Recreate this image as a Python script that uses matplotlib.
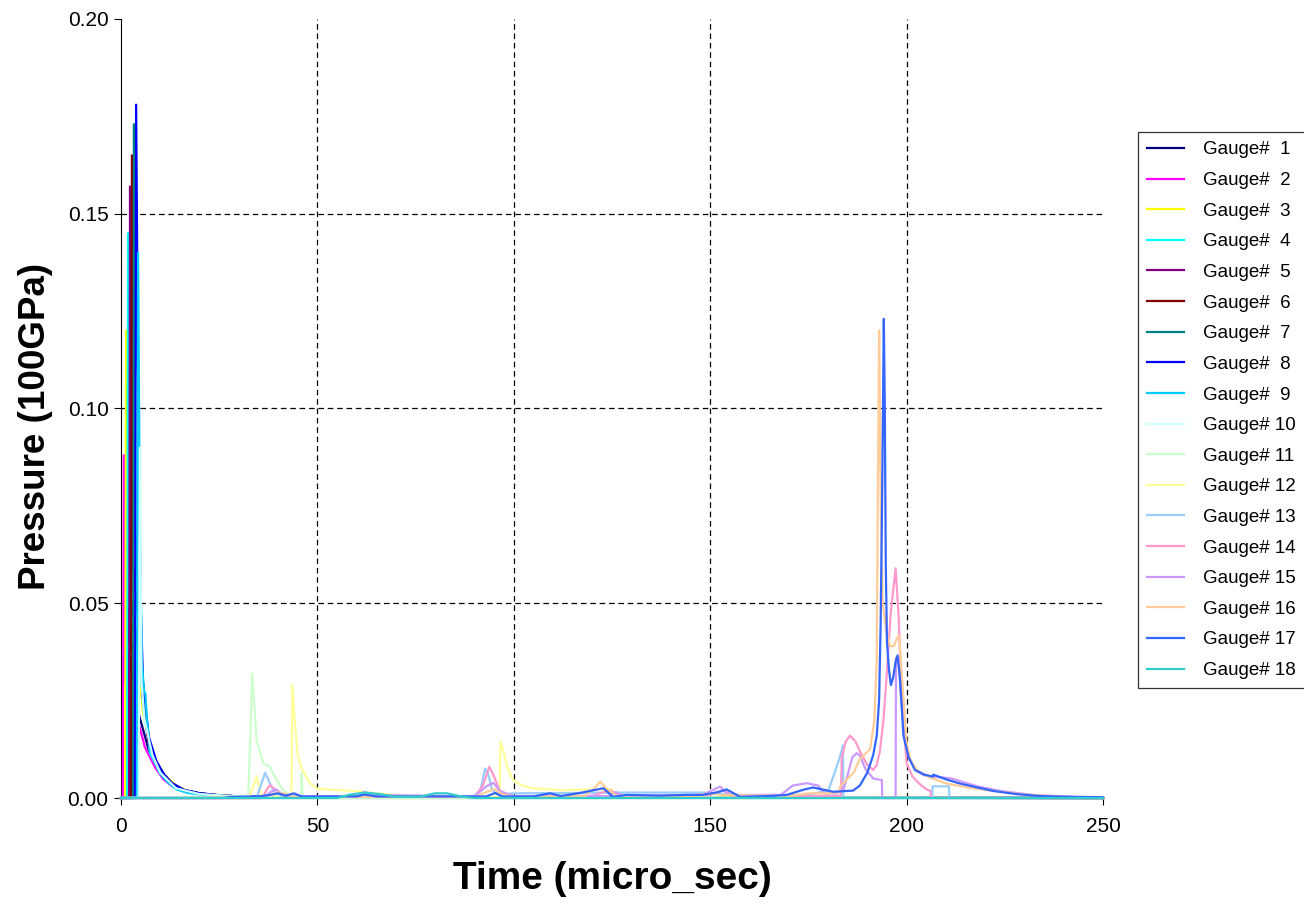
import matplotlib
matplotlib.use("Agg")
import matplotlib.pyplot as plt

plt.rcParams['font.family'] = ['Liberation Sans', 'DejaVu Sans']

# gauge traces: time (micro_sec), pressure (100GPa)
t01 = [0, 1.9, 2.05, 2.3, 4.4, 5.5, 7, 9, 11, 12.5, 14.2, 16.7, 20, 25, 30, 40, 250]
p01 = [0, 0, 0.05, 0.035, 0.022, 0.018, 0.0125, 0.0085, 0.0058, 0.0040, 0.0026, 0.0016, 0.0010, 0.0006, 0.0004, 0.0002, 0.0]

t02 = [0, 0.45, 0.75, 1.0, 4.8, 6.1, 8.7, 10.8, 13, 16, 20, 25, 30, 40, 250]
p02 = [0, 0, 0.088, 0.03, 0.018, 0.013, 0.0078, 0.0048, 0.003, 0.0017, 0.001, 0.0006, 0.0004, 0.0002, 0]

t03 = [0, 1.05, 1.3, 1.55, 5.0, 5.6, 7, 9, 11, 14, 17, 21, 26, 32, 40, 250]
p03 = [0, 0, 0.12, 0.04, 0.028, 0.022, 0.015, 0.0095, 0.006, 0.0032, 0.0018, 0.001, 0.0006, 0.0004, 0.0002, 0]

t04 = [0, 1.55, 1.8, 2.05, 4.9, 5.6, 7.4, 9.9, 12, 14.2, 17, 21, 26, 32, 40, 250]
p04 = [0, 0, 0.145, 0.05, 0.035, 0.024, 0.0115, 0.0064, 0.004, 0.0022, 0.0014, 0.0009, 0.0005, 0.0003, 0.0001, 0]

t05 = [0, 2.05, 2.3, 2.6, 4.9, 5.5, 7, 9, 11, 13, 16, 20, 25, 30, 40, 250]
p05 = [0, 0, 0.157, 0.05, 0.036, 0.026, 0.014, 0.0085, 0.0055, 0.0035, 0.002, 0.0012, 0.0007, 0.0004, 0.0002, 0]

t06 = [0, 2.55, 2.8, 3.1, 5.0, 5.6, 7, 9, 11, 13, 16, 20, 25, 30, 40, 250]
p06 = [0, 0, 0.165, 0.06, 0.038, 0.027, 0.015, 0.009, 0.006, 0.0038, 0.0021, 0.0012, 0.0007, 0.0004, 0.0002, 0]

t07 = [0, 3.05, 3.3, 3.6, 5.0, 5.7, 7.2, 9, 11, 13, 16, 20, 25, 30, 40, 250]
p07 = [0, 0, 0.173, 0.07, 0.04, 0.027, 0.0145, 0.009, 0.0058, 0.0037, 0.002, 0.0012, 0.0007, 0.0004, 0.0002, 0]

t08 = [0, 3.55, 3.85, 4.4, 5.0, 5.6, 7, 9, 11, 13, 16, 20, 25, 30, 40, 250]
p08 = [0, 0, 0.178, 0.10, 0.05, 0.03, 0.016, 0.0095, 0.006, 0.0038, 0.0021, 0.0012, 0.0007, 0.0004, 0.0002, 0]

t09 = [0, 4.05, 4.35, 4.8, 5.3, 5.9, 6.2, 6.6, 7.4, 9.9, 12, 14.2, 17, 21, 26, 32, 40, 250]
p09 = [0, 0, 0.140, 0.07, 0.035, 0.027, 0.027, 0.02, 0.012, 0.0064, 0.004, 0.0022, 0.0013, 0.0008, 0.0005, 0.0003, 0.0001, 0]

t10 = [0, 4.5, 4.8, 5.2, 6, 8, 10, 14, 20, 30, 40, 250]
p10 = [0, 0, 0.09, 0.03, 0.02, 0.011, 0.0065, 0.0025, 0.001, 0.0004, 0, 0]

t11 = [0, 32.4, 32.9, 33.4, 34.5, 36.2, 37.9, 39.6, 41.3, 43, 45.9, 46.0, 46.2, 250]
p11 = [0, 0.0005, 0.015, 0.032, 0.015, 0.0089, 0.008, 0.0046, 0.002, 0.0006, 0.0005, 0.0064, 0.0, 0]

t12 = [0, 32.6, 34.5, 35.8, 43.4, 43.6, 44.3, 45, 46, 48.1, 50, 54, 60, 65, 70, 75, 85,
       96.4, 96.6, 97.5, 98.5, 99.9, 102, 105, 111.8, 120, 125, 126, 135, 250]
p12 = [0, 0, 0.0055, 0.0005, 0.0004, 0.029, 0.019, 0.011, 0.0075, 0.0038, 0.0024, 0.0021, 0.0018, 0.0012, 0.0008, 0.0005, 0.0003,
       0.0003, 0.0145, 0.0115, 0.0075, 0.0046, 0.0032, 0.0025, 0.002, 0.0022, 0.0022, 0.0005, 0.0002, 0]

t13 = [0, 34.5, 35.5, 36.7, 37.8, 39, 41, 60, 90, 91.5, 92.7, 93.5, 94.5, 96, 100, 128.7, 148, 160, 175,
       180.1, 181.5, 183.0, 183.8, 183.9, 206.5, 206.6, 210.8, 210.9, 250]
p13 = [0, 0, 0.003, 0.0065, 0.004, 0.0015, 0.0005, 0.0003, 0.0005, 0.002, 0.0076, 0.006, 0.002, 0.0008, 0.0012, 0.0014, 0.0014, 0.0006, 0.0008,
       0.002, 0.006, 0.0105, 0.0135, 0.0, 0.0, 0.003, 0.003, 0.0, 0]

t14 = [0, 36, 37, 37.9, 39.5, 41, 43, 60, 62, 65, 90, 92, 93.8, 95, 96.5, 100, 120, 124.5, 127, 150, 153, 156, 175,
       183.3, 183.5, 184.5, 185.6, 187, 188.1, 190, 191.5, 192.4, 193.2, 194.1, 194.9, 196.0, 197.2, 198.0, 198.7,
       200.0, 201.5, 203.3, 205.1, 206.1, 206.2, 250]
p14 = [0, 0, 0.002, 0.0033, 0.002, 0.0008, 0.0003, 0.0003, 0.001, 0.0005, 0.0003, 0.003, 0.008, 0.0055, 0.0015, 0.0005, 0.0006, 0.002, 0.0005, 0.0008, 0.002, 0.0006, 0.0005,
       0.0006, 0.0105, 0.0145, 0.016, 0.0145, 0.012, 0.0085, 0.0072, 0.0085, 0.012, 0.02, 0.031, 0.048, 0.059, 0.046, 0.026,
       0.009, 0.0055, 0.0036, 0.0022, 0.0018, 0.0, 0]

t15 = [0, 36.5, 38, 39.5, 41, 43, 60, 62, 64, 90, 93, 94.8, 96.5, 100, 124, 126, 128, 148, 152.5, 155, 168, 171, 174.6, 177.5, 179,
       182, 183.9, 185, 186.2, 187.3, 188.1, 189.5, 191.5, 193.7, 193.8, 197.2, 197.3, 198.0, 199.0, 200.5, 202.5,
       204.5, 206.4, 209, 211.5, 214, 218, 224, 232, 242, 250]
p15 = [0, 0, 0.0015, 0.0022, 0.001, 0.0004, 0.0005, 0.0016, 0.0008, 0.0004, 0.003, 0.0039, 0.0018, 0.0004, 0.0005, 0.0015, 0.0005, 0.0008, 0.0029, 0.0008, 0.0008, 0.0032, 0.0038, 0.0032, 0.0012,
       0.0012, 0.002, 0.006, 0.0105, 0.0115, 0.011, 0.0075, 0.005, 0.0046, 0.0, 0.0, 0.036, 0.034, 0.02, 0.0105, 0.007,
       0.0058, 0.0055, 0.0053, 0.005, 0.0042, 0.003, 0.0018, 0.0008, 0.0003, 0.0001]

t16 = [0, 36, 38, 40, 42, 44, 90, 93, 95, 97, 100, 118, 120.5, 122, 123.5, 126, 145, 150, 153, 170, 175, 180, 182.9,
       183, 185, 186.5, 188.1, 190.7, 191.8, 192.4, 192.7, 193.0, 193.2, 193.5, 193.9, 194.8, 195.8, 196.8, 197.5,
       198.1, 198.9, 200, 201, 202.6, 206, 210.2, 216, 222.1, 230, 240, 250]
p16 = [0, 0, 0.0008, 0.0015, 0.001, 0.0003, 0.0003, 0.0015, 0.0023, 0.001, 0.0003, 0.0005, 0.0025, 0.0042, 0.0025, 0.0006, 0.0005, 0.0012, 0.0008, 0.0005, 0.0012, 0.0012, 0.0015,
       0.0029, 0.005, 0.0065, 0.010, 0.0125, 0.02, 0.0357, 0.08, 0.120, 0.10, 0.07, 0.05, 0.043, 0.039, 0.039, 0.041,
       0.0416, 0.03, 0.014, 0.0098, 0.0072, 0.0052, 0.0037, 0.0026, 0.0018, 0.0009, 0.0003, 0.0002]

t17 = [0, 26, 28, 35, 38, 40, 42, 44, 46, 60, 62, 65, 93, 95.3, 97, 105, 109.2, 112, 116.9, 122.8, 125.3, 128.7, 137, 144, 148,
       152, 154.2, 157.6, 165, 169.5, 174, 176.2, 178.5, 181.3, 186.4, 188.1, 190, 191.5, 192.4, 193.0, 193.4, 193.8,
       194.2, 194.45, 194.7, 195.0, 195.5, 196.0, 196.6, 197.2, 197.7, 198.3, 199.2, 200.5, 202.1, 204.5, 206.7,
       206.8, 210, 213.6, 218, 222.1, 228, 234, 242, 250]
p17 = [0, 0, 0.0003, 0.0004, 0.0008, 0.0012, 0.0006, 0.0012, 0.0004, 0.0004, 0.0009, 0.0004, 0.0004, 0.0013, 0.0004, 0.0004, 0.0012, 0.0005, 0.0013, 0.0025, 0.0003, 0.0008, 0.0006, 0.0008, 0.0008,
       0.0015, 0.0022, 0.0003, 0.0005, 0.0008, 0.0022, 0.0027, 0.0022, 0.0016, 0.0019, 0.0032, 0.0065, 0.011, 0.016, 0.025, 0.045, 0.08,
       0.123, 0.10, 0.06, 0.04, 0.033, 0.029, 0.031, 0.035, 0.0366, 0.031, 0.016, 0.0105, 0.0072, 0.006, 0.0055,
       0.006, 0.0048, 0.0037, 0.0027, 0.0018, 0.001, 0.0005, 0.0003, 0.0002]

t18 = [0, 55, 58, 62, 66, 70, 76, 80, 83, 87, 90, 250]
p18 = [0, 0, 0.0008, 0.0014, 0.001, 0.0003, 0.0003, 0.0012, 0.0012, 0.0003, 0, 0]

times = [t01, t02, t03, t04, t05, t06, t07, t08, t09, t10, t11, t12, t13, t14, t15, t16, t17, t18]
pressures = [p01, p02, p03, p04, p05, p06, p07, p08, p09, p10, p11, p12, p13, p14, p15, p16, p17, p18]
colors = ['#000080', '#FF00FF', '#FFFF00', '#00FFFF', '#800080', '#800000', '#008080', '#0000FF', '#00CCFF',
          '#CCFFFF', '#CCFFCC', '#FFFF99', '#99CCFF', '#FF99CC', '#CC99FF', '#FFCC99', '#3366FF', '#33CCCC']

xticks = [0, 50, 100, 150, 200, 250]
yticks = [0.00, 0.05, 0.10, 0.15, 0.20]

fig = plt.figure(figsize=(13.04, 9.05), dpi=100)
ax = fig.add_axes([121/1304, 1 - 798/905, (1103 - 121)/1304, (798 - 19)/905])

for xt in xticks[1:-1]:
    ax.axvline(xt, color='black', lw=0.9, dashes=(4.5, 3), zorder=1)
for yt in yticks[1:-1]:
    ax.axhline(yt, color='black', lw=0.9, dashes=(4.5, 3), zorder=1)

for i in range(18):
    ax.plot(times[i], pressures[i], color=colors[i], lw=1.6, clip_on=False, zorder=3,
            label='Gauge# %2d' % (i + 1))

ax.set_xlim(0, 250)
ax.set_ylim(0, 0.20)
ax.set_xticks(xticks)
ax.set_xticklabels([str(v) for v in xticks])
ax.set_yticks(yticks)
ax.set_yticklabels(['%.2f' % v for v in yticks])
ax.tick_params(direction='out', length=5, width=0.8, labelsize=15, color='black')
ax.tick_params(axis='x', pad=9)
ax.tick_params(axis='y', pad=4)
ax.spines['top'].set_visible(False)
ax.spines['right'].set_visible(False)
ax.spines['left'].set_linewidth(0.8)
ax.spines['bottom'].set_linewidth(0.8)

fig.text(612/1304, 1 - 879/905, 'Time (micro_sec)', fontsize=28, fontweight='bold',
         ha='center', va='center')
fig.text(36/1304, 1 - 426/905, 'Pressure (100GPa)', fontsize=26.5, fontweight='bold',
         ha='center', va='center', rotation=90)

leg = ax.legend(loc='upper left', bbox_to_anchor=(1138/1304, 1 - 132/905), bbox_transform=fig.transFigure,
                fontsize=13.5, frameon=True, fancybox=False, borderaxespad=0, borderpad=0.5,
                handlelength=1.97, handletextpad=1.0, labelspacing=0.72)
leg.get_frame().set_edgecolor('black')
leg.get_frame().set_linewidth(0.9)

fig.savefig('out.png', dpi=100)
